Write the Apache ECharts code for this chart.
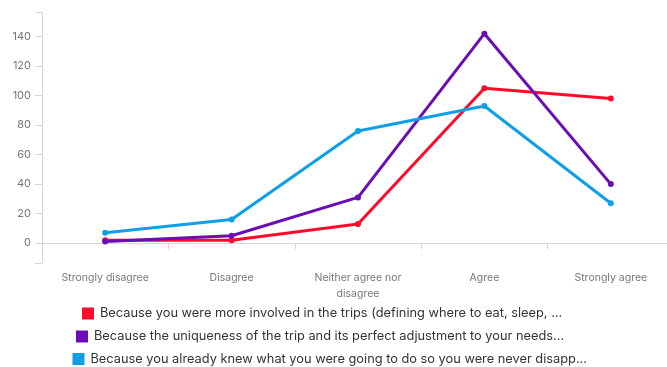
<!DOCTYPE html>
<html>
<head>
<meta charset="utf-8">
<script src="https://cdn.jsdelivr.net/npm/echarts@6/dist/echarts.min.js"></script>
<style>
  html, body { margin: 0; padding: 0; background: #fff; }
  #chart { width: 667px; height: 367px; }
</style>
</head>
<body>
<div id="chart"></div>
<script>
// Likert response categories
const categories = ['Strongly disagree', 'Disagree', 'Neither agree nor\ndisagree', 'Agree', 'Strongly agree'];

// Series names
const seriesNames = [
  'Because you were more involved in the trips (defining where to eat, sleep, ...',
  'Because the uniqueness of the trip and its perfect adjustment to your needs...',
  'Because you already knew what you were going to do so you were never disapp...'
];

// Response counts per category
const involvedValues = [2, 2, 13, 105, 98];
const uniquenessValues = [1, 5, 31, 142, 40];
const knewValues = [7, 16, 76, 93, 27];

// Y axis tick labels
const yTickLabels = [0, 20, 40, 60, 80, 100, 120, 140];

const colors = ['#FF0A2B', '#6A0DB5', '#0E9FE6'];
const seriesValues = [involvedValues, uniquenessValues, knewValues];

const yMin = -13.5, yMax = 156.5;

const chart = echarts.init(document.getElementById('chart'), null, { renderer: 'canvas' });

// one legend row per series
const legendLefts = [82, 76, 72.5];
const legendTops = [307, 330, 352.5];

chart.setOption({
  animation: false,
  textStyle: { fontFamily: 'Inter' },
  grid: {
    left: 42, top: 12.3, width: 632, height: 250.7,
    containLabel: false, outerBoundsMode: 'none'
  },
  legend: seriesNames.map((name, i) => ({
    data: [name],
    left: legendLefts[i],
    top: legendTops[i],
    padding: 0,
    icon: 'rect',
    itemWidth: 12,
    itemHeight: 12,
    selectedMode: false,
    textStyle: { fontFamily: 'Inter', fontSize: 12.8, color: '#333', padding: [0, 0, 0, 1] }
  })),
  xAxis: {
    type: 'category',
    data: categories,
    boundaryGap: true,
    axisLine: { show: true, lineStyle: { color: '#d6d6d6', width: 1 } },
    axisTick: { show: true, length: 6, lineStyle: { color: '#d6d6d6' } },
    axisLabel: { color: '#777', fontSize: 10.5, margin: 7, lineHeight: 16, fontFamily: 'Inter' },
    splitLine: { show: false }
  },
  yAxis: {
    type: 'value',
    min: yMin,
    max: yMax,
    axisLine: { show: true, lineStyle: { color: '#d6d6d6', width: 1 } },
    axisTick: {
      show: true, length: 7,
      customValues: [yMin].concat(yTickLabels, [yMax]),
      lineStyle: { color: '#d6d6d6' }
    },
    axisLabel: {
      customValues: yTickLabels,
      color: '#777', fontSize: 11, margin: 11, fontFamily: 'Inter'
    },
    splitLine: { show: false }
  },
  series: seriesNames.map((name, i) => ({
    name: name,
    type: 'line',
    data: seriesValues[i],
    color: colors[i],
    symbol: 'circle',
    symbolSize: 6,
    lineStyle: { width: 3, color: colors[i] },
    itemStyle: { color: colors[i] }
  }))
});
</script>
</body>
</html>
